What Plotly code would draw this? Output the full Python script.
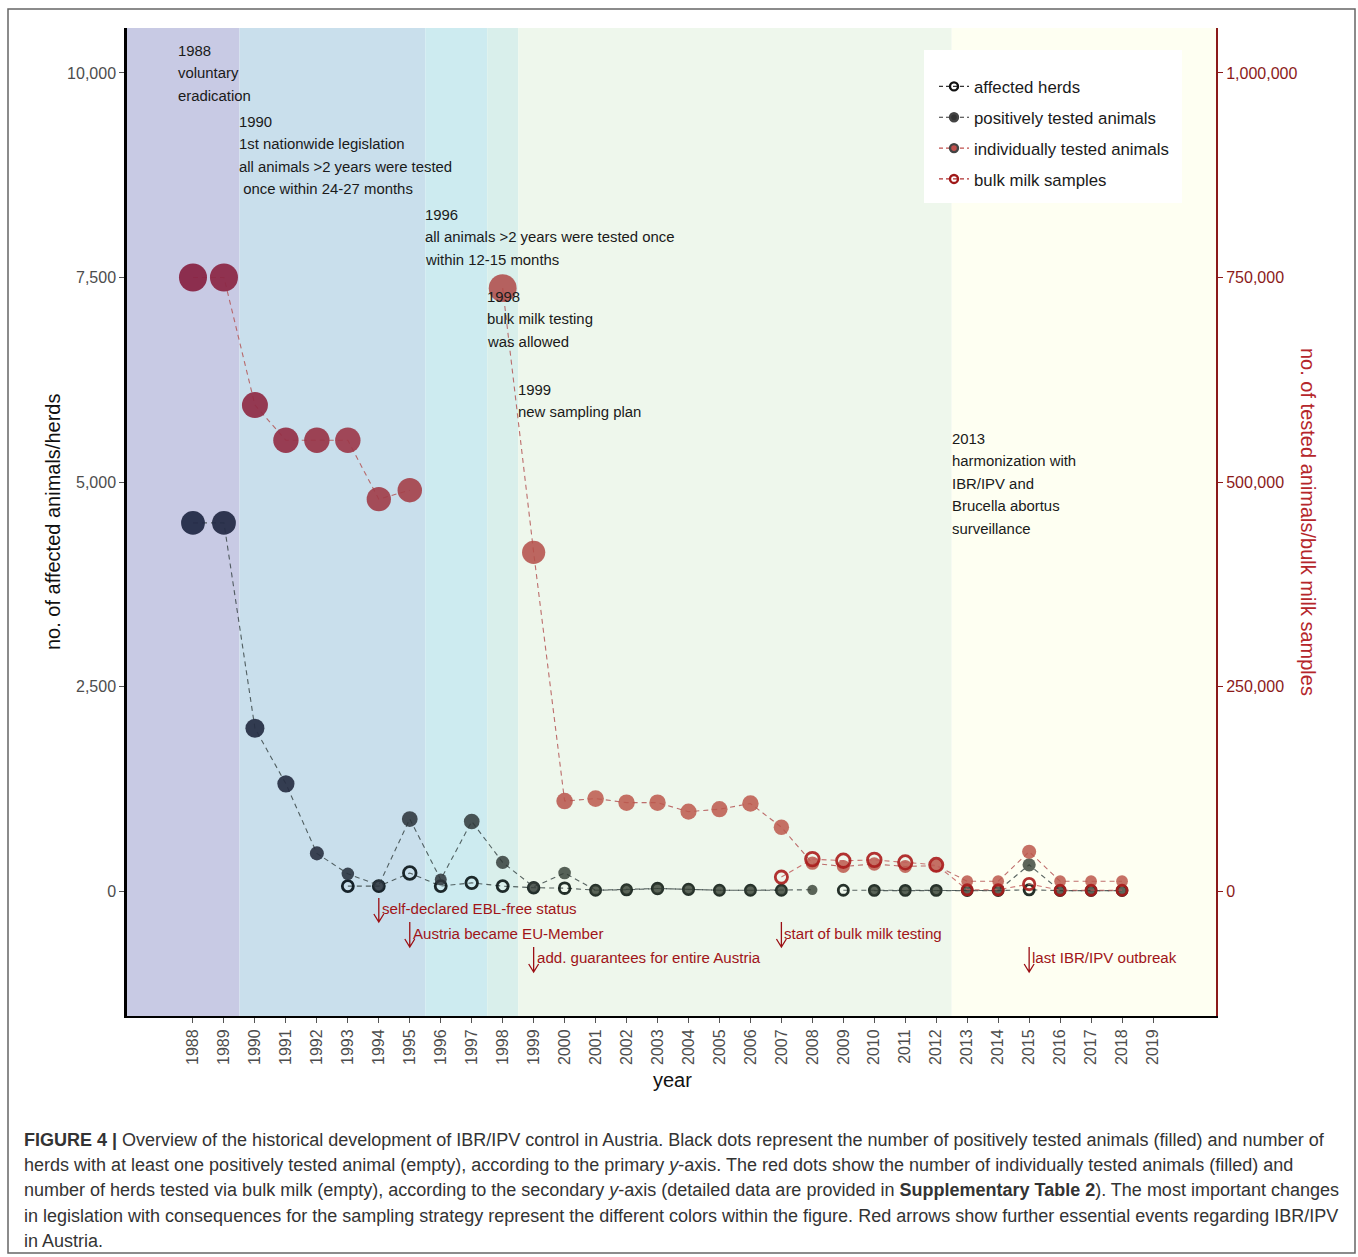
import plotly.graph_objects as go

# ---------------------------------------------------------------- data
years = list(range(1988, 2019))

# primary axis: number of positively tested animals / affected herds
positive_animals = [4500, 4500, 1990, 1310, 460, 210, 70, 880, 140, 850, 350, 50, 220,
                    10, 20, 30, 20, 10, 10, 10, 15, None, 5, 5, 5, 5, 5, 320, 5, 5, 5]
affected_herds = [None, None, None, None, None, 60, 60, 220, 60, 100, 60, 40, 35,
                  10, 15, 30, 20, 10, 10, 10, None, 10, 8, 8, 8, 5, 5, 15, 5, 5, 5]

# secondary axis: individually tested animals / bulk milk samples
individual_tests = [750000, 750000, 594000, 551000, 551000, 551000, 479000, 490000, None, None,
                    737000, 414000, 110000, 113000, 108000, 108000, 97000, 100000, 107000, 78000,
                    34000, 30000, 33000, 30000, 31000, 12000, 12000, 48000, 12000, 12000, 12000]
bulk_milk = [None] * 19 + [17000, 39000, 37000, 38000, 35000, 32000, 1500, 1500, 8500, 1000, 1000, 1000]

# legislation periods (start, end, fill)
periods = [(1985.5, 1989.5, "#c8cae4"), (1989.5, 1995.5, "#c9dfec"), (1995.5, 1997.5, "#cdebf0"),
           (1997.5, 1998.5, "#d9efeb"), (1998.5, 2012.5, "#eef7ec"), (2012.5, 2022.0, "#fefff2")]
period_notes = [
    (1987.5, ["1988", "voluntary", "eradication"]),
    (1989.5, ["1990", "1st nationwide legislation", "all animals >2 years were tested",
              "\u00a0once within 24-27 months"]),
    (1995.5, ["1996", "all animals >2 years were tested once", "within 12-15 months"]),
    (1997.5, ["1998", "bulk milk testing", "was allowed"]),
    (1998.5, ["1999", "new sampling plan"]),
    (2012.5, ["2013", "harmonization with", "IBR/IPV and", "Brucella abortus", "surveillance"]),
]
note_rows = [51, 122, 215, 297, 390, 439]

# further events (year, text, row)
events = [(1994, "self-declared EBL-free status", 0),
          (1995, "Austria became EU-Member", 1),
          (1999, "add. guarantees for entire Austria", 2),
          (2007, "start of bulk milk testing", 1),
          (2015, "last IBR/IPV outbreak", 2)]

x_ticks = list(range(1988, 2020))
left_ticks = [0, 2500, 5000, 7500, 10000]
right_ticks = [0, 250000, 500000, 750000, 1000000]

caption_lines = [
    "<b>FIGURE 4 |</b> Overview of the historical development of IBR/IPV control in Austria. Black dots represent the number of positively tested animals (filled) and number of",
    "herds with at least one positively tested animal (empty), according to the primary <i>y</i>-axis. The red dots show the number of individually tested animals (filled) and",
    "number of herds tested via bulk milk (empty), according to the secondary <i>y</i>-axis (detailed data are provided in <b>Supplementary Table 2</b>). The most important changes",
    "in legislation with consequences for the sampling strategy represent the different colors within the figure. Red arrows show further essential events regarding IBR/IPV",
    "in Austria.",
]

# ---------------------------------------------------------------- helpers
FONT = "Liberation Sans, Arial, sans-serif"
DARKRED = "#8b1a1a"
W, H = 1358, 1257
L, R, T, B = 127, 1216, 28, 1016


def py(p):
    """pixel row -> paper y"""
    return (B - p) / (B - T)


def px(p):
    """pixel column -> paper x"""
    return (p - L) / (R - L)


def sizes(values, axis_max):
    return [9.4 + 21.5 * (v / axis_max) ** 0.5 if v is not None else 0 for v in values]


def year_colours(c0, c1, span=13.0):
    out = []
    for yr in years:
        t = min(max((yr - 1988) / span, 0.0), 1.0)
        c = [c0[i] + (c1[i] - c0[i]) * t for i in range(4)]
        out.append("rgba(%d,%d,%d,%.2f)" % (c[0], c[1], c[2], c[3]))
    return out


# ---------------------------------------------------------------- figure
fig = go.Figure()

dash = "5px,4px"

fig.add_trace(go.Scatter(
    x=years, y=affected_herds, mode="lines+markers", showlegend=False,
    line=dict(color="rgba(50,62,62,0.8)", width=1.1, dash=dash),
    marker=dict(symbol="circle-open", size=sizes(affected_herds, 10000), opacity=1,
                color=year_colours((8, 18, 34, 0.95), (18, 30, 24, 0.92)),
                line=dict(width=2.8)),
))
fig.add_trace(go.Scatter(
    x=years, y=positive_animals, mode="lines+markers", showlegend=False,
    line=dict(color="rgba(50,62,62,0.8)", width=1.1, dash=dash),
    marker=dict(symbol="circle", size=sizes(positive_animals, 10000), opacity=1,
                color=year_colours((36, 43, 72, 0.95), (53, 63, 51, 0.8)),
                line=dict(width=0)),
))
fig.add_trace(go.Scatter(
    x=years, y=individual_tests, yaxis="y2", mode="lines+markers", showlegend=False,
    line=dict(color="rgba(180,85,85,0.85)", width=1.1, dash=dash),
    marker=dict(symbol="circle", size=sizes(individual_tests, 1000000), opacity=1,
                color=year_colours((137, 37, 70, 0.95), (188, 88, 76, 0.85)),
                line=dict(width=0)),
))
fig.add_trace(go.Scatter(
    x=years, y=bulk_milk, yaxis="y2", mode="lines+markers", showlegend=False,
    line=dict(color="rgba(195,95,95,0.85)", width=1.1, dash=dash),
    marker=dict(symbol="circle-open", size=sizes(bulk_milk, 1000000), opacity=1,
                color="rgba(170,28,28,0.9)", line=dict(width=2.8)),
))

# legend entries
legend_items = [("affected herds", "circle-open", "#111111", "#333333"),
                ("positively tested animals", "circle", "#333333", "#333333"),
                ("individually tested animals", "circle", "#c0504d", "#c0504d"),
                ("bulk milk samples", "circle-open", "#a01818", "#b03030")]
for i, (name, sym, mcol, lcol) in enumerate(legend_items):
    fig.add_trace(go.Scatter(
        x=[None], y=[None], mode="lines+markers", name=name, legendgroup=str(i),
        line=dict(color=lcol, width=1.2, dash="4px,3px"),
        marker=dict(symbol=sym, size=8, color=mcol, line=dict(width=2.4)),
    ))

shapes = []
for x0, x1, col in periods:
    shapes.append(dict(type="rect", xref="x", yref="paper", x0=x0, x1=x1, y0=0, y1=1,
                       fillcolor=col, line=dict(width=0), layer="below"))
# legend box
shapes.append(dict(type="rect", xref="paper", yref="paper", x0=px(924), x1=px(1182),
                   y0=py(203), y1=py(50), fillcolor="white", line=dict(width=0), layer="below"))
# outer frame
shapes.append(dict(type="rect", xref="paper", yref="paper", x0=px(8), x1=px(1355),
                   y0=py(1253), y1=py(9), line=dict(color="#666666", width=1.5)))

annotations = []
for (xpos, lines), row in zip(period_notes, note_rows):
    for k, txt in enumerate(lines):
        annotations.append(dict(x=xpos, y=py(row + 22.4 * k), xref="x", yref="paper",
                                text=txt, showarrow=False, xanchor="left", yanchor="middle",
                                xshift=-2,
                                font=dict(family=FONT, size=14.9, color="#1a1a1a")))

event_rows = [(898, 922, 908), (922, 947, 933), (947, 972, 957)]
for yr, txt, r in events:
    top, bot, mid = event_rows[r]
    annotations.append(dict(x=yr + 0.1, y=py(mid), xref="x", yref="paper", text=txt,
                            showarrow=False, xanchor="left", yanchor="middle", xshift=-2,
                            font=dict(family=FONT, size=15.1, color="#a01418")))
    hx = 0.16
    path = "M %f,%f L %f,%f M %f,%f L %f,%f L %f,%f" % (
        yr, py(top), yr, py(bot), yr - hx, py(bot - 8), yr, py(bot), yr + hx, py(bot - 8))
    shapes.append(dict(type="path", xref="x", yref="paper", path=path,
                       line=dict(color="#9b0f14", width=1.3)))

# axis titles
annotations.append(dict(x=px(53), y=py(522), xref="paper", yref="paper",
                        xanchor="center", yanchor="middle",
                        text="no. of affected animals/herds", textangle=-90, showarrow=False,
                        font=dict(family=FONT, size=20, color="#111111")))
annotations.append(dict(x=px(1308), y=py(522), xref="paper", yref="paper",
                        xanchor="center", yanchor="middle",
                        text="no. of tested animals/bulk milk samples", textangle=90,
                        showarrow=False, font=dict(family=FONT, size=20, color="#b5262b")))
annotations.append(dict(x=px(672), y=py(1080), xref="paper", yref="paper", text="year",
                        xanchor="center", yanchor="middle",
                        showarrow=False, font=dict(family=FONT, size=20, color="#111111")))

# caption
for k, txt in enumerate(caption_lines):
    annotations.append(dict(x=px(22), y=py(1140 + 25.2 * k), xref="paper", yref="paper",
                            text=txt, showarrow=False, xanchor="left", yanchor="middle",
                            font=dict(family=FONT, size=18, color="#333333")))

fig.update_layout(
    width=W, height=H, autosize=False,
    margin=dict(l=L, r=W - R, t=T, b=H - B),
    paper_bgcolor="white", plot_bgcolor="white",
    font=dict(family=FONT),
    shapes=shapes, annotations=annotations,
    xaxis=dict(range=[1985.869, 2021.034], tickvals=x_ticks, ticktext=[str(v) for v in x_ticks],
               tickangle=-90, ticks="outside", ticklen=5, tickcolor="#555555",
               tickfont=dict(family=FONT, size=16, color="#4d4d4d"),
               showline=True, linecolor="black", linewidth=2, showgrid=False, zeroline=False,
               automargin=False),
    yaxis=dict(range=[-1528, 10550], tickvals=left_ticks, ticktext=["{:,}".format(v) for v in left_ticks],
               ticks="outside", ticklen=5, tickcolor="#555555",
               tickfont=dict(family=FONT, size=16, color="#4d4d4d"),
               showline=True, linecolor="black", linewidth=2.5, showgrid=False, zeroline=False,
               automargin=False),
    yaxis2=dict(range=[-152800, 1055000], overlaying="y", side="right", tickvals=right_ticks,
                ticktext=["{:,}".format(v) for v in right_ticks], ticks="outside", ticklen=5,
                tickcolor=DARKRED, tickfont=dict(family=FONT, size=16, color=DARKRED),
                showline=True, linecolor=DARKRED, linewidth=2, showgrid=False, zeroline=False,
                automargin=False),
    legend=dict(x=px(934), y=py(69), xanchor="left", yanchor="top", bgcolor="rgba(0,0,0,0)",
                font=dict(family=FONT, size=16.8, color="#1a1a1a"), tracegroupgap=6,
                traceorder="grouped", itemwidth=30),
)

fig.write_html("out.html")
